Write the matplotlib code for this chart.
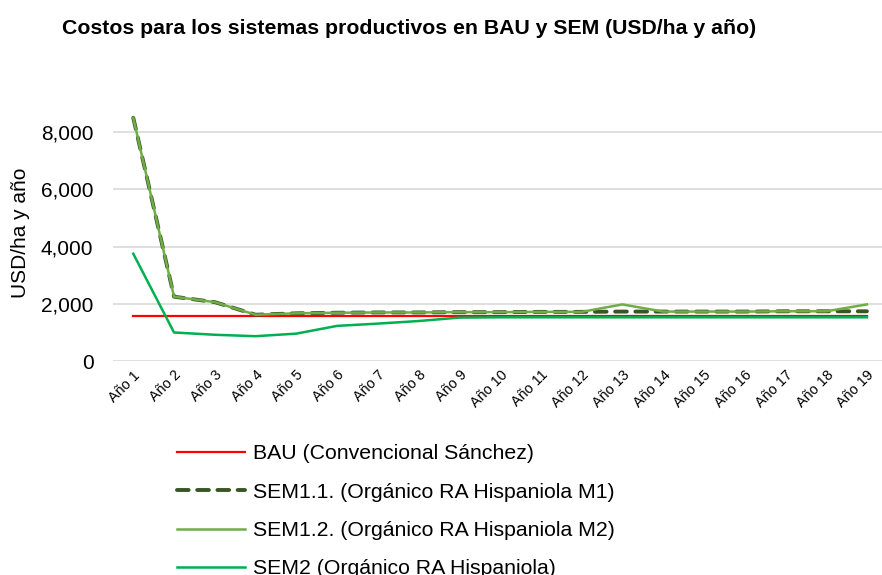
import numpy as np
from matplotlib import pyplot as plt

plt.rcParams['font.family'] = ['Liberation Sans', 'DejaVu Sans']

years = ['Año %d' % i for i in range(1, 20)]

bau = [1570] * 19
sem11 = [8500, 2250, 2060, 1620, 1670, 1690, 1700, 1700, 1710, 1710, 1720,
         1720, 1730, 1730, 1730, 1730, 1740, 1740, 1740]
sem12 = [8500, 2250, 2060, 1620, 1670, 1690, 1700, 1700, 1710, 1710, 1720,
         1720, 1980, 1730, 1730, 1730, 1740, 1740, 1980]
sem2 = [3750, 1000, 920, 870, 960, 1230, 1310, 1400, 1520, 1530, 1530,
        1530, 1530, 1530, 1530, 1530, 1530, 1530, 1530]

fig = plt.figure(figsize=(8.82, 5.75), dpi=100)
ax = fig.add_axes([0.128, 0.372, 0.878, 0.448])

x = np.arange(len(years))
ax.plot(x, bau, color='#ff0000', linewidth=1.6, label='BAU (Convencional Sánchez)', zorder=3)
ax.plot(x, sem11, color='#375623', linewidth=2.8, dashes=(3.0, 2.2), dash_capstyle='round',
        label='SEM1.1. (Orgánico RA Hispaniola M1)', zorder=4)
ax.plot(x, sem12, color='#70ad47', linewidth=1.8,
        label='SEM1.2. (Orgánico RA Hispaniola M2)', zorder=5)
ax.plot(x, sem2, color='#00b050', linewidth=1.8,
        label='SEM2 (Orgánico RA Hispaniola)', zorder=3)

ax.set_xlim(-0.5, 18.5)
ax.set_ylim(0, 9000)
ax.set_yticks([0, 2000, 4000, 6000, 8000])
ax.set_yticklabels(['0', '2,000', '4,000', '6,000', '8,000'], fontsize=15)
ax.set_xticks(x)
ax.set_xticklabels(years, rotation=45, ha='right', rotation_mode='anchor', fontsize=10.4)
ax.tick_params(length=0)
ax.tick_params(axis='x', pad=5)
ax.tick_params(axis='y', pad=14)
ax.grid(axis='y', color='#d9d9d9', linewidth=1.2)
ax.set_axisbelow(True)
for s in ax.spines.values():
    s.set_visible(False)

fig.text(0.0227, 0.595, 'USD/ha y año', rotation=90, fontsize=15, va='center', ha='center')
fig.text(0.070, 0.951, 'Costos para los sistemas productivos en BAU y SEM (USD/ha y año)',
         fontsize=15.3, fontweight='bold', va='center')

leg = fig.legend(loc='upper left', bbox_to_anchor=(0.191, 0.242), frameon=False,
                 fontsize=15.3, handlelength=3.2, handletextpad=0.38,
                 labelspacing=0.91, borderaxespad=0)

plt.savefig('out.png', dpi=100)
